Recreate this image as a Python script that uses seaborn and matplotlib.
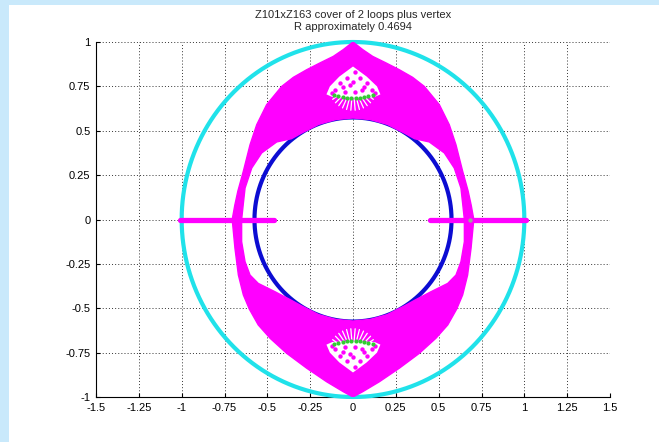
import numpy as np
import pandas as pd
import matplotlib
matplotlib.use("Agg")
import matplotlib.pyplot as plt
import seaborn as sns
from matplotlib.patches import Rectangle

# ---------------- data ----------------
title_lines = ["Z101xZ163 cover of 2 loops plus vertex", "R approximately 0.4694"]

x_ticks = [-1.5, -1.25, -1.0, -0.75, -0.5, -0.25, 0.0, 0.25, 0.5, 0.75, 1.0, 1.25, 1.5]
x_tick_labels = ["-1.5", "-1.25", "-1", "-0.75", "-0.5", "-0.25", "0",
                 "0.25", "0.5", "0.75", "1", "1.25", "1.5"]
y_ticks = [-1.0, -0.75, -0.5, -0.25, 0.0, 0.25, 0.5, 0.75, 1.0]
y_tick_labels = ["-1", "-0.75", "-0.5", "-0.25", "0", "0.25", "0.5", "0.75", "1"]

outer_circle_radius = 1.0      # cyan
inner_circle_radius = 0.575    # blue

# magenta region, left half (right half is its mirror image)
upper_outer_x = [0.0, -0.057, -0.115, -0.193, -0.270, -0.348, -0.416, -0.504,
                 -0.562, -0.601, -0.640, -0.672, -0.690, -0.705]
upper_outer_y = [1.0, 0.957, 0.919, 0.882, 0.844, 0.801, 0.750, 0.647,
                 0.534, 0.421, 0.272, 0.160, 0.080, 0.0]
upper_inner_x = [-0.650, -0.640, -0.630, -0.591, -0.533, -0.445, -0.360,
                 -0.300, -0.200, -0.100, 0.0]
upper_inner_y = [0.0, 0.090, 0.177, 0.290, 0.375, 0.437, 0.455,
                 0.487, 0.536, 0.563, 0.572]
lower_outer_x = [-0.705, -0.689, -0.669, -0.640, -0.605, -0.553, -0.484,
                 -0.387, -0.270, -0.154, -0.057, 0.0]
lower_outer_y = [0.0, -0.162, -0.313, -0.425, -0.505, -0.594, -0.669,
                 -0.754, -0.838, -0.914, -0.970, -1.0]
lower_inner_x = [-0.650, -0.650, -0.630, -0.601, -0.553, -0.455, -0.360,
                 -0.300, -0.200, -0.100, 0.0]
lower_inner_y = [0.0, -0.125, -0.238, -0.313, -0.360, -0.407, -0.455,
                 -0.487, -0.536, -0.563, -0.572]

# white hole near the top (mirrored for the bottom)
hole_x = [0.0, -0.080, -0.135, -0.155, -0.120, 0.0, 0.125, 0.160, 0.140, 0.080]
hole_y = [0.862, 0.805, 0.750, 0.705, 0.690, 0.686, 0.690, 0.705, 0.750, 0.805]
hole_dot_x = [0.012, -0.037, 0.041, -0.076, 0.080, -0.018, 0.012, 0.051,
              -0.047, -0.105, 0.109, 0.0, -0.060, 0.065, -0.125, 0.130]
hole_dot_y = [0.833, 0.795, 0.795, 0.767, 0.767, 0.758, 0.720, 0.730,
              0.720, 0.730, 0.730, 0.775, 0.745, 0.745, 0.712, 0.712]
fan_angles = [205, 215, 225, 235, 245, 255, 265, 275, 285, 295, 305, 315, 325, 335]
green_x = [-0.110, -0.085, -0.060, -0.035, -0.010, 0.015, 0.040, 0.065, 0.090, 0.115]
green_y = [0.700, 0.694, 0.690, 0.687, 0.686, 0.686, 0.687, 0.690, 0.694, 0.700]

# magenta segments on the real axis
axis_seg_left = [-1.01, -0.46]
axis_seg_right = [0.45, 1.01]
grey_point = (0.68, 0.0)

# ---------------- styling ----------------
sns.set_theme(style="white")
plt.rcParams["font.family"] = ["Liberation Sans", "DejaVu Sans"]

CYAN = "#20e2ea"
BLUE = "#0c0cd2"
MAGENTA = "#ff00ff"
GREEN = "#33cc33"

fig = plt.figure(figsize=(6.59, 4.42), dpi=100)
fig.patch.set_facecolor("#c9e9fb")
fig.patches.append(Rectangle((9 / 659, 0), 1, 437 / 442, transform=fig.transFigure,
                             facecolor="white", edgecolor="none", zorder=-10))
ax = fig.add_axes([96 / 659, 45 / 442, 514 / 659, 355 / 442])
ax.set_facecolor("white")

# circles
theta = np.linspace(0, 2 * np.pi, 721)
for r, col in [(outer_circle_radius, CYAN), (inner_circle_radius, BLUE)]:
    df = pd.DataFrame({"x": r * np.cos(theta), "y": r * np.sin(theta)})
    sns.lineplot(data=df, x="x", y="y", sort=False, estimator=None, color=col,
                 linewidth=3.0, ax=ax, zorder=3)

# magenta region
def mirror(xs):
    return [-v for v in xs]

# upper: left outer (cusp -> axis), left inner (axis -> top), right inner, right outer
upper_x = (upper_outer_x + upper_inner_x + mirror(upper_inner_x[::-1])
           + mirror(upper_outer_x[::-1]))
upper_y = upper_outer_y + upper_inner_y + upper_inner_y[::-1] + upper_outer_y[::-1]
# lower: left outer (axis -> cusp), right outer (cusp -> axis), right inner, left inner
lower_x = (lower_outer_x + mirror(lower_outer_x[::-1]) + mirror(lower_inner_x)
           + lower_inner_x[::-1])
lower_y = lower_outer_y + lower_outer_y[::-1] + lower_inner_y + lower_inner_y[::-1]
for px, py in [(upper_x, upper_y), (lower_x, lower_y)]:
    ax.fill(px, py, facecolor=MAGENTA, linewidth=1.0, edgecolor=MAGENTA, zorder=4)

# holes with dots, fans and green points (top and mirrored bottom)
for s in (1, -1):
    ax.fill(hole_x, [s * v for v in hole_y], color="white", linewidth=0, zorder=5)
    cx, cy = 0.0, s * 0.76
    for a in fan_angles:
        ang = np.deg2rad(a if s == 1 else -a)
        ax.plot([cx + 0.075 * np.cos(ang), cx + 0.145 * np.cos(ang)],
                [cy + 0.075 * np.sin(ang), cy + 0.145 * np.sin(ang)],
                color="white", linewidth=0.9, zorder=5)
    sns.scatterplot(x=hole_dot_x, y=[s * v for v in hole_dot_y], color=MAGENTA,
                    s=10, linewidth=0, ax=ax, zorder=6)
    sns.scatterplot(x=green_x, y=[s * v for v in green_y], color=GREEN,
                    s=9, linewidth=0, ax=ax, zorder=7)

# real-axis segments
for seg in (axis_seg_left, axis_seg_right):
    sns.lineplot(x=seg, y=[0.0, 0.0], color=MAGENTA, linewidth=3.8, ax=ax,
                 zorder=6, solid_capstyle="round")
ax.scatter([grey_point[0]], [grey_point[1]], color="#9aa89a", s=10, zorder=8, linewidth=0)

# axes
ax.set_xlim(-1.5, 1.5)
ax.set_ylim(-1.0, 1.0)
ax.set_xticks(x_ticks)
ax.set_xticklabels(x_tick_labels)
ax.set_yticks(y_ticks)
ax.set_yticklabels(y_tick_labels)
ax.set_xlabel("")
ax.set_ylabel("")
ax.grid(True, color="#333333", linestyle=(0, (1, 2.2)), linewidth=0.7)
ax.set_axisbelow(True)
for side in ("top", "right"):
    ax.spines[side].set_visible(False)
for side in ("left", "bottom"):
    ax.spines[side].set_color("black")
    ax.spines[side].set_linewidth(0.8)
ax.tick_params(direction="in", length=3, width=0.8, labelsize=8, colors="black",
               left=True, bottom=True, top=False, right=False, pad=4)
ax.set_title("\n".join(title_lines), fontsize=8, pad=9, linespacing=1.15)
for line in ax.lines:
    line.set_clip_on(False)

fig.savefig("out.png", dpi=100, facecolor=fig.get_facecolor())
